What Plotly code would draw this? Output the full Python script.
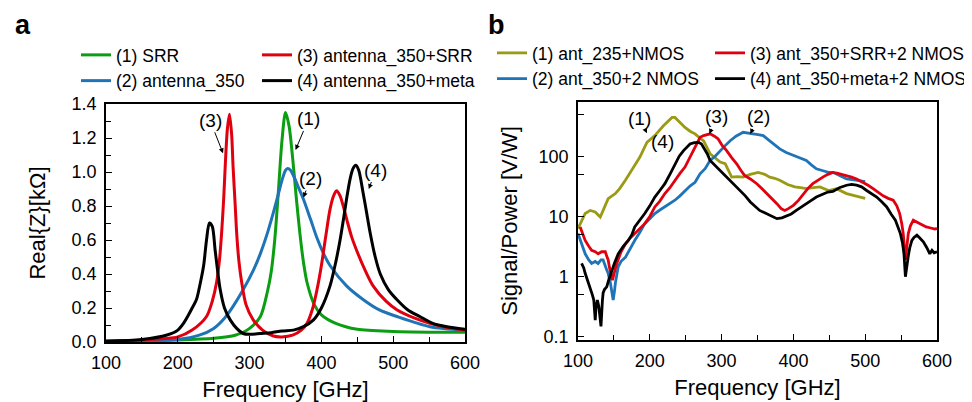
import plotly.graph_objects as go

# ---------------- panel a: Real{Z} vs frequency ----------------
a_srr_f = [100, 150, 200, 250, 280, 300, 315, 325, 330, 335, 340, 345, 350, 355, 360, 365, 370, 375, 380, 390, 400, 420, 450, 500, 550, 600]
a_srr_z = [0.005, 0.008, 0.012, 0.022, 0.04, 0.08, 0.15, 0.30, 0.41, 0.60, 0.88, 1.18, 1.35, 1.27, 1.08, 0.85, 0.64, 0.47, 0.35, 0.22, 0.16, 0.11, 0.075, 0.062, 0.058, 0.057]

a_ant_f = [100, 150, 200, 230, 250, 265, 277, 290, 305, 315, 324, 333, 340, 345, 350, 353, 357, 362, 368, 375, 385, 394, 403, 412, 435, 458, 480, 505, 551, 600]
a_ant_z = [0.005, 0.008, 0.015, 0.04, 0.08, 0.14, 0.21, 0.30, 0.42, 0.52, 0.63, 0.76, 0.87, 0.95, 1.01, 1.02, 1.01, 0.97, 0.91, 0.84, 0.72, 0.61, 0.52, 0.45, 0.33, 0.25, 0.19, 0.15, 0.09, 0.07]

a_srr2_f = [100, 150, 200, 220, 240, 248, 254, 258, 261, 264, 266, 269, 272, 275, 277, 280, 282, 285, 289, 295, 305, 318, 333, 345, 360, 372, 380, 388, 394, 400, 406, 412, 417, 421, 426, 431, 436, 442, 449, 460, 472, 490, 505, 530, 551, 575, 600]
a_srr2_z = [0.005, 0.012, 0.03, 0.07, 0.15, 0.24, 0.35, 0.48, 0.64, 0.85, 1.03, 1.25, 1.34, 1.22, 1.03, 0.80, 0.64, 0.48, 0.35, 0.22, 0.13, 0.07, 0.035, 0.03, 0.04, 0.07, 0.11, 0.20, 0.31, 0.45, 0.62, 0.78, 0.86, 0.89, 0.86, 0.79, 0.71, 0.62, 0.54, 0.43, 0.33, 0.24, 0.19, 0.14, 0.11, 0.085, 0.07]

a_meta_f = [100, 150, 185, 200, 208, 215, 220, 226, 231, 236, 240, 244, 248, 252, 256, 259, 265, 273, 282, 291, 300, 315, 330, 345, 361, 375, 389, 400, 412, 420, 426, 431, 435, 440, 444, 448, 452, 458, 463, 468, 475, 482, 493, 505, 520, 537, 555, 575, 600]
a_meta_z = [0.005, 0.015, 0.041, 0.07, 0.11, 0.16, 0.2, 0.25, 0.34, 0.45, 0.6, 0.7, 0.68, 0.54, 0.40, 0.31, 0.2, 0.13, 0.08, 0.05, 0.045, 0.05, 0.055, 0.065, 0.07, 0.09, 0.13, 0.2, 0.33, 0.47, 0.6, 0.73, 0.84, 0.96, 1.02, 1.04, 1.01, 0.88, 0.76, 0.64, 0.5, 0.4, 0.31, 0.25, 0.19, 0.15, 0.11, 0.09, 0.075]

# ---------------- panel b: signal/power vs frequency ----------------
b_235_f = [100, 105, 110, 117, 124, 131, 135, 142, 152, 158, 166, 175, 186, 196, 207, 219, 226, 231, 235, 242, 249, 256, 263, 270, 275, 284, 292, 298, 305, 314, 322, 330, 340, 351, 360, 367, 374, 381, 392, 402, 410, 418, 428, 437, 449, 460, 474, 488, 500]
b_235_v = [6.3, 8.5, 11.2, 12.6, 11.9, 9.8, 12.6, 19.8, 24, 29, 40, 58, 96, 170, 220, 320, 390, 440, 440, 360, 300, 260, 235, 200, 180, 110, 90, 80, 75, 45, 46, 45, 50, 54, 50, 45, 43, 40, 34, 31, 30, 29, 30, 31, 27, 29, 24, 22, 20]

b_350_f = [100, 105, 110, 115, 119, 124, 128, 132, 135, 140, 142, 145, 147, 149, 151, 152, 156, 160, 166, 173, 179, 186, 193, 200, 207, 214, 221, 228, 235, 242, 249, 256, 263, 270, 277, 284, 291, 298, 305, 312, 320, 330, 337, 344, 351, 358, 367, 374, 381, 390, 400, 409, 418, 425, 432, 440, 449, 455, 465, 474, 487, 500]
b_350_v = [5.2, 3.6, 2.4, 1.9, 1.66, 1.8, 1.66, 1.9, 1.9, 1.3, 1.14, 0.8, 0.55, 0.41, 0.6, 0.78, 1.46, 1.8, 2.1, 3.0, 4.0, 5.4, 7.6, 9.2, 11.2, 12.8, 14.4, 16.5, 18.6, 22, 27, 32, 37, 51, 62, 85, 100, 124, 150, 181, 215, 250, 245, 235, 228, 220, 180, 155, 132, 115, 103, 95, 85, 72, 62, 58, 54, 54, 48, 42, 40, 38]

b_srr_f = [103, 106, 110, 115, 119, 124, 128, 133, 138, 140, 142, 144, 146, 148, 150, 154, 160, 166, 172, 179, 186, 193, 200, 207, 214, 221, 228, 235, 242, 249, 255, 261, 266, 270, 275, 280, 284, 290, 295, 301, 307, 314, 321, 327, 332, 340, 349, 356, 363, 370, 377, 383, 388, 393, 400, 407, 414, 420, 427, 434, 441, 448, 455, 462, 468, 474, 481, 488, 497, 504, 511, 518, 525, 532, 539, 544, 548, 551, 553, 556, 558, 560, 563, 567, 571, 576, 581, 585, 590, 594, 597, 600]
b_srr_v = [6.7, 5.2, 4.0, 3.2, 2.75, 2.6, 2.4, 2.6, 2.6, 2.2, 1.9, 1.4, 1.14, 0.88, 1.1, 1.66, 2.6, 3.5, 4.3, 5.2, 6.3, 7.6, 10.0, 14.4, 18.0, 24, 30, 40, 52, 66, 90, 124, 165, 206, 220, 228, 235, 215, 195, 150, 124, 95, 75, 58, 48, 42, 35, 29, 24, 20, 16.3, 13.5, 12.6, 13.5, 15.3, 18.5, 24, 29, 35, 40, 45, 50, 54, 52, 50, 48, 45, 42, 37, 33, 29, 25, 22, 20, 18.6, 15, 11.2, 7.5, 5.2, 1.9, 3.5, 5.2, 7.0, 8.7, 8.2, 7.6, 7.2, 6.7, 6.5, 6.3, 6.2, 6.3]

b_meta_f = [105, 108, 110, 113, 117, 120, 122, 124, 125, 127, 129, 131, 132, 134, 135, 137, 140, 143, 147, 151, 156, 163, 170, 175, 179, 186, 193, 200, 207, 214, 221, 228, 235, 241, 247, 252, 256, 262, 268, 272, 275, 280, 284, 291, 298, 305, 312, 319, 326, 333, 340, 347, 353, 360, 367, 373, 377, 384, 390, 397, 404, 411, 418, 425, 432, 440, 448, 455, 464, 474, 481, 488, 495, 502, 509, 516, 523, 530, 536, 542, 546, 549, 552, 554, 556, 558, 560, 562, 565, 568, 572, 576, 581, 586, 590, 593, 596, 600]
b_meta_v = [1.66, 1.4, 1.14, 0.9, 0.68, 0.5, 0.41, 0.19, 0.3, 0.41, 0.32, 0.2, 0.15, 0.4, 0.54, 0.62, 0.68, 0.9, 1.29, 1.7, 2.4, 3.2, 4.0, 5.0, 6.7, 8.5, 11.2, 15, 21, 27, 35, 50, 75, 100, 124, 142, 160, 168, 170, 160, 140, 110, 85, 70, 58, 48, 40, 33, 27, 22, 17.4, 14.5, 12.6, 11.5, 10.5, 9.8, 9.2, 9.5, 10.2, 11.0, 12.6, 14.2, 16.3, 18.5, 21, 23, 25.4, 26, 30, 33, 34, 33, 31, 27, 24, 21, 17.5, 14.4, 11, 8.7, 6.5, 5.2, 3.6, 2.4, 1.0, 1.6, 2.2, 3.0, 4.0, 4.5, 4.9, 4.4, 3.8, 3.0, 2.4, 2.75, 2.5, 2.6]

GREEN = '#0c9e12'
BLUE = '#1f74b8'
RED = '#e0000f'
BLACK = '#000000'
OLIVE = '#9a9a14'
FONT = 'Liberation Sans, Arial, sans-serif'

# the page body adds an 8px margin, so the figure is 8px smaller than the window
W, H = 964, 394


def px(x):
    # window pixel -> paper fraction
    return (x - 8) / W


def py(y):
    return 1 - (y - 8) / H


fig = go.Figure()

# panel a traces
fig.add_trace(go.Scatter(x=a_srr_f, y=a_srr_z, name='(1) SRR', mode='lines', line=dict(color=GREEN, width=3, shape='spline', smoothing=0.8), xaxis='x', yaxis='y', legend='legend'))
fig.add_trace(go.Scatter(x=a_ant_f, y=a_ant_z, name='(2) antenna_350', mode='lines', line=dict(color=BLUE, width=3, shape='spline', smoothing=0.8), xaxis='x', yaxis='y', legend='legend'))
fig.add_trace(go.Scatter(x=a_srr2_f, y=a_srr2_z, name='(3) antenna_350+SRR', mode='lines', line=dict(color=RED, width=3, shape='spline', smoothing=0.8), xaxis='x', yaxis='y', legend='legend2'))
fig.add_trace(go.Scatter(x=a_meta_f, y=a_meta_z, name='(4) antenna_350+meta', mode='lines', line=dict(color=BLACK, width=3, shape='spline', smoothing=0.8), xaxis='x', yaxis='y', legend='legend2'))

# panel b traces
fig.add_trace(go.Scatter(x=b_235_f, y=b_235_v, name='(1) ant_235+NMOS', mode='lines', line=dict(color=OLIVE, width=2.8), xaxis='x2', yaxis='y2', legend='legend3'))
fig.add_trace(go.Scatter(x=b_350_f, y=b_350_v, name='(2) ant_350+2 NMOS', mode='lines', line=dict(color=BLUE, width=2.8), xaxis='x2', yaxis='y2', legend='legend3'))
fig.add_trace(go.Scatter(x=b_srr_f, y=b_srr_v, name='(3) ant_350+SRR+2 NMOS', mode='lines', line=dict(color=RED, width=2.8), xaxis='x2', yaxis='y2', legend='legend4'))
fig.add_trace(go.Scatter(x=b_meta_f, y=b_meta_v, name='(4) ant_350+meta+2 NMOS', mode='lines', line=dict(color=BLACK, width=2.8), xaxis='x2', yaxis='y2', legend='legend4'))

axis_common = dict(showline=True, linecolor='black', linewidth=1.5, mirror=True, ticks='inside',
                   ticklen=6, tickwidth=1.2, tickcolor='black', showgrid=False, zeroline=False,
                   ticklabelstandoff=4,
                   tickfont=dict(size=18, color='black'), title_font=dict(size=22, color='black'))

legend_common = dict(font=dict(size=17.5, color='black'), bgcolor='rgba(0,0,0,0)', orientation='v',
                     tracegroupgap=0, itemwidth=30, xanchor='left', yanchor='top')

fig.update_layout(
    width=W, height=H,
    margin=dict(l=0, r=0, t=0, b=0, autoexpand=False),
    paper_bgcolor='white', plot_bgcolor='white',
    font=dict(family=FONT, color='black'),
    xaxis=dict(domain=[px(106), px(465)], range=[100, 600], dtick=100,
               minor=dict(dtick=50, ticks='inside', ticklen=5, tickcolor='black'),
               title=dict(text='Frequency [GHz]', standoff=9), anchor='y', **axis_common),
    yaxis=dict(domain=[py(342), py(104)], range=[0, 1.4], dtick=0.2, tickformat='.1f',
               minor=dict(dtick=0.1, ticks='inside', ticklen=5, tickcolor='black'),
               title=dict(text='Real{Z}[kΩ]', standoff=20), anchor='x', **axis_common),
    xaxis2=dict(domain=[px(578), px(937)], range=[100, 600], dtick=100,
                minor=dict(dtick=50, ticks='inside', ticklen=5, tickcolor='black'),
                title=dict(text='Frequency [GHz]', standoff=9), anchor='y2', **axis_common),
    yaxis2=dict(domain=[py(340), py(102)], type='log', range=[-1.05, 2.9],
                tickvals=[0.1, 1, 10, 100], ticktext=['0.1', '1', '10', '100'],
                minor=dict(tickmode='array', tickvals=[0.5, 5, 50, 500], ticks='inside', ticklen=6, tickcolor='black'),
                title=dict(text='Signal/Power [V/W]', standoff=15), anchor='x2', **axis_common),
    legend=dict(x=px(76), y=py(37), **legend_common),
    legend2=dict(x=px(257), y=py(37), **legend_common),
    legend3=dict(x=px(492), y=py(35), **legend_common),
    legend4=dict(x=px(710), y=py(35), **legend_common),
    showlegend=True,
)

# panel letters
fig.add_annotation(text='<b>a</b>', x=px(23), y=1, xref='paper', yref='paper',
                   xanchor='center', yanchor='top', showarrow=False, font=dict(size=27, color='black'))
fig.add_annotation(text='<b>b</b>', x=px(496), y=1, xref='paper', yref='paper',
                   xanchor='center', yanchor='top', showarrow=False, font=dict(size=27, color='black'))

# curve labels with arrows: (label, tip x, tip y, ax, ay)
labels_a = [('(3)', 263, 1.11, -13, -33), ('(1)', 364, 1.13, 13, -31),
            ('(2)', 375, 0.85, 7, -19), ('(4)', 466, 0.9, 7, -19)]
for txt, x, y, ax, ay in labels_a:
    fig.add_annotation(text=txt, x=x, y=y, xref='x', yref='y', ax=ax, ay=ay,
                       showarrow=True, arrowhead=2, arrowsize=1, arrowwidth=1, arrowcolor='black',
                       font=dict(size=19, color='black'))

labels_b = [('(1)', 196, 2.38, -7, -15), ('(4)', 229, 2.09, -8, -9),
            ('(3)', 283, 2.37, 7, -17), ('(2)', 340, 2.37, 8, -17)]
for txt, x, y, ax, ay in labels_b:
    fig.add_annotation(text=txt, x=x, y=y, xref='x2', yref='y2', ax=ax, ay=ay,
                       showarrow=True, arrowhead=2, arrowsize=1, arrowwidth=1, arrowcolor='black',
                       font=dict(size=19, color='black'))

fig.write_html("out.html")
